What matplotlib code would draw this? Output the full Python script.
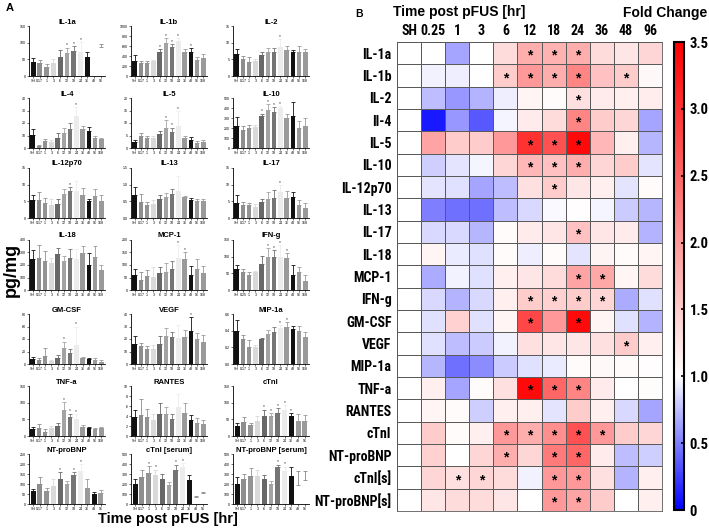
import numpy as np
import matplotlib
matplotlib.use("Agg")
import matplotlib.pyplot as plt
from matplotlib.colors import LinearSegmentedColormap, Normalize
from matplotlib.cm import ScalarMappable

plt.rcParams["font.family"] = ["Liberation Sans", "DejaVu Sans"]
NARROW = ["Liberation Sans Narrow", "Roboto Condensed", "Open Sans Condensed",
          "DejaVu Sans Condensed", "Liberation Sans"]

nan = np.nan

TIMES_12 = ["SH", "0.17", "1", "3", "6", "12", "18", "24", "36", "48", "96", "168"]
TIMES_11 = TIMES_12[:11]
TIMES_IFN = ["SH", "0.25", "1", "3", "6", "12", "18", "24", "36", "48", "96", "168"]

# ---- panel A: tissue levels (pg/mg), mean and upper error per time point ----
IL1A_MEAN = [42, 40, 28, 40, 57, 70, 75, 72, 57, nan, 88]
IL1A_ERR = [12, 8, 8, 10, 20, 15, 15, 30, 15, 0, 8]
IL1A_STAR = [5, 6, 7]

IL1B_MEAN = [294, 268, 268, 294, 477, 654, 588, 693, 477, 477, 314, 366]
IL1B_ERR = [120, 40, 40, 30, 60, 100, 50, 70, 60, 80, 60, 70]
IL1B_STAR = [4, 5, 6, 7, 9]

IL2_MEAN = [6.5, 5.2, 4.2, 4.4, 6.2, 7.2, 7.2, 8.6, 7.8, 7.2, 7.2, 7.2]
IL2_ERR = [1.5, 0.8, 1.5, 0.6, 1.0, 1.2, 1.2, 2.5, 1.2, 0.5, 1.8, 1.0]
IL2_STAR = [7]

IL4_MEAN = [10.3, 2, 5.8, 4.5, 8.4, 12.4, 15, 25.5, 15, 13.7, 8.4, 7.1]
IL4_ERR = [5, 0.5, 1.5, 2, 4, 4, 5, 7, 3, 3, 1, 1]
IL4_STAR = [7]

IL5_MEAN = [2.6, 4.9, 3.9, 4.2, 5.5, 8.2, 6.6, 8.8, 4.2, 3.3, 2.2, 2.5]
IL5_ERR = [0.6, 1, 1, 0.8, 1.5, 3, 1.5, 6, 0.5, 1.3, 0.8, 0.8]
IL5_STAR = [5, 6, 7]

IL10_MEAN = [220, 181, 197, 210, 325, 382, 362, 401, 303, 319, 204, 217]
IL10_ERR = [90, 40, 30, 25, 20, 60, 50, 20, 40, 140, 70, 80]
IL10_STAR = [4, 5, 6, 7]

IL12_MEAN = [5.4, 5.4, 4.6, 4.0, 4.3, 7.1, 8.1, 8.1, 6.9, 5.2, 6.7, 5.2]
IL12_ERR = [1.5, 2.5, 1.5, 1.8, 1.5, 1.5, 1.2, 3, 2, 0.5, 2, 1.8]
IL12_STAR = [6]

IL13_MEAN = [0.70, 0.48, 0.40, 0.43, 0.57, 0.62, 0.71, 0.81, 0.62, 0.55, 0.52, 0.52]
IL13_ERR = [0.23, 0.25, 0.08, 0.1, 0.12, 0.12, 0.15, 0.45, 0.05, 0.05, 0.06, 0.06]
IL13_STAR = []

IL17_MEAN = [4.5, 3.8, 4.0, 3.3, 4.8, 5.7, 6.0, 7.8, 6.0, 6.2, 3.8, 3.1]
IL17_ERR = [2.5, 1, 0.5, 1, 1, 2, 2.5, 2, 2, 1.5, 1.5, 1.5]
IL17_STAR = [7]

IL18_MEAN = [250, 260, 229, 217, 285, 229, 260, 247, 298, 204, 268, 158]
IL18_ERR = [70, 100, 80, 40, 50, 40, 70, 80, 50, 90, 80, 40]
IL18_STAR = []

MCP1_MEAN = [60, 42, 55, 51, 68, 74, 85, 127, 125, 62, 83, 70]
MCP1_ERR = [25, 30, 25, 40, 25, 35, 30, 52, 25, 35, 40, 25]
MCP1_STAR = [7, 8]

IFNG_MEAN = [62, 55, 46, 53, 78, 100, 100, 100, 95, 46, 54, 26]
IFNG_ERR = [12, 8, 8, 5, 25, 25, 20, 35, 15, 30, 15, 20]
IFNG_STAR = [5, 6, 7, 8]

GMCSF_MEAN = [8, 7, 13, 5, 10, 26, 18, 30, 10, 8, 6, 4]
GMCSF_ERR = [4, 3, 12, 1, 5, 10, 6, 30, 2, 2, 3, 2]
GMCSF_STAR = [5, 7]

VEGF_MEAN = [16.3, 14.5, 11.8, 12.4, 15.8, 22.6, 21.6, 21, 21.6, 26.3, 19.7, 17.9]
VEGF_ERR = [6, 2.5, 3, 3, 7, 6, 4, 10, 6, 11, 5, 5]
VEGF_STAR = [9]

MIP1A_MEAN = [0.40, 0.30, 0.20, 0.21, 0.30, 0.36, 0.38, 0.43, 0.45, 0.42, 0.40, 0.33]
MIP1A_ERR = [0.13, 0.05, 0.09, 0.02, 0.01, 0.05, 0.07, 0.04, 0.05, 0.04, 0.06, 0.05]
MIP1A_STAR = [7, 8]

TNFA_MEAN = [22, 25, 13, 25, 30, 77, 57, 50, 27, 23, 22, 23]
TNFA_ERR = [4, 10, 8, 5, 8, 25, 10, 15, 5, 3, 3, 3]
TNFA_STAR = [5, 6, 7]

RANTES_MEAN = [3.9, 4.2, 3.9, 3.3, 4.4, 4.4, 3.5, 5.9, 4.6, 3.3, 2.6, 2.4]
RANTES_ERR = [1.3, 3.3, 1.5, 1.2, 2.3, 1.5, 0.9, 2.5, 2, 1, 1, 0.8]
RANTES_STAR = []

CTNI_MEAN = [29, 41, 34, 44, 59, 59, 69, 78, 61, 46, 44]
CTNI_ERR = [10, 15, 5, 15, 20, 10, 15, 15, 8, 20, 18]
CTNI_STAR = [4, 5, 6, 7, 8]

NTPRO_MEAN = [66, 99, 66, 89, 123, 102, 143, 164, 82, 49, 53]
NTPRO_ERR = [8, 35, 12, 35, 35, 15, 15, 35, 45, 12, 18]
NTPRO_STAR = [4, 6, 7]

CTNIS_MEAN = [197, 270, 312, 293, 253, 187, 345, 368, 243, 72, 110]
CTNIS_ERR = [50, 70, 70, 50, 50, 30, 50, 40, 50, 10, 12]
CTNIS_STAR = [2, 3, 6, 7]

NTPROS_MEAN = [197, 247, 280, 280, 247, 197, 375, 335, 280, 187, 240]
NTPROS_ERR = [70, 50, 80, 60, 40, 30, 20, 40, 90, 140, 90]
NTPROS_STAR = [6, 7]

# ---- panel B: fold change vs sham ----
HEAT_COLS = ["SH", "0.25", "1", "3", "6", "12", "18", "24", "36", "48", "96"]
HEAT_ROWS = ["IL-1a", "IL-1b", "IL-2", "Il-4", "IL-5", "IL-10", "IL-12p70", "IL-13",
             "IL-17", "IL-18", "MCP-1", "IFN-g", "GM-CSF", "VEGF", "MIP-1a", "TNF-a",
             "RANTES", "cTnI", "NT-proBNP", "cTnI[s]", "NT-proBNP[s]"]
FOLD = [
    [1, 1.00, 0.65, 1.00, 1.35, 1.80, 1.75, 1.80, 1.35, 1.25, 1.40],
    [1, 0.95, 0.93, 1.00, 1.50, 2.00, 1.80, 2.20, 1.60, 1.50, 1.08],
    [1, 0.75, 0.60, 0.70, 0.93, 1.10, 1.05, 1.30, 1.20, 1.15, 1.18],
    [1, 0.10, 0.60, 0.35, 0.97, 1.20, 1.35, 2.20, 1.50, 1.40, 0.65],
    [1, 1.90, 1.50, 1.50, 2.00, 3.00, 2.70, 3.40, 1.70, 1.15, 0.72],
    [1, 0.82, 0.90, 0.97, 1.40, 1.70, 1.60, 1.80, 1.40, 1.50, 0.90],
    [1, 0.90, 0.88, 0.65, 0.75, 1.30, 1.50, 1.25, 1.15, 0.90, 1.05],
    [1, 0.50, 0.45, 0.45, 0.75, 0.85, 0.98, 1.02, 0.97, 0.80, 0.72],
    [1, 0.85, 0.85, 0.72, 1.05, 1.20, 1.25, 1.60, 1.25, 1.20, 0.70],
    [1, 1.10, 0.92, 0.88, 1.05, 0.93, 1.05, 0.90, 1.12, 1.05, 1.10],
    [1, 0.68, 0.95, 0.88, 1.15, 1.25, 1.35, 1.90, 1.85, 1.10, 1.35],
    [1, 0.85, 0.70, 0.85, 1.15, 1.50, 1.45, 1.50, 1.40, 0.68, 0.88],
    [1, 0.88, 1.45, 0.88, 1.10, 2.80, 2.00, 3.40, 1.10, 0.88, 0.70],
    [1, 0.88, 0.75, 0.80, 0.95, 1.30, 1.25, 1.25, 1.30, 1.50, 1.15],
    [1, 0.72, 0.45, 0.55, 0.80, 0.88, 0.92, 1.05, 1.07, 1.05, 1.02],
    [1, 1.15, 0.65, 1.05, 1.30, 3.40, 2.50, 2.20, 1.20, 1.00, 1.03],
    [1, 1.10, 1.05, 0.82, 1.15, 1.15, 0.90, 1.50, 1.15, 0.85, 0.65],
    [1, 1.50, 1.05, 1.15, 2.00, 1.80, 2.10, 2.70, 2.00, 1.50, 1.40],
    [1, 1.45, 1.00, 1.40, 1.80, 1.40, 2.30, 2.50, 1.20, 0.75, 0.82],
    [1, 1.40, 1.30, 1.40, 1.35, 0.95, 2.00, 2.00, 1.30, 0.70, 1.15],
    [1, 1.25, 1.35, 1.35, 1.25, 1.00, 2.00, 1.90, 1.50, 1.00, 1.15],
]
SIG = [[5, 6, 7], [4, 5, 6, 7, 9], [7], [7], [5, 6, 7], [5, 6, 7], [6], [], [7], [],
       [7, 8], [5, 6, 7, 8], [5, 7], [9], [], [5, 6, 7], [], [4, 5, 6, 7, 8],
       [4, 6, 7], [2, 3, 6, 7], [6, 7]]

# title, x labels, means, errors, stars, y max, y step, black bars, floating bars
PANELS = [
    ("IL-1a", TIMES_11, IL1A_MEAN, IL1A_ERR, IL1A_STAR, 150, 50, [0, 8], [10]),
    ("IL-1b", TIMES_12, IL1B_MEAN, IL1B_ERR, IL1B_STAR, 1000, 200, [0, 9], []),
    ("IL-2", TIMES_12, IL2_MEAN, IL2_ERR, IL2_STAR, 15, 5, [0, 9], []),
    ("IL-4", TIMES_12, IL4_MEAN, IL4_ERR, IL4_STAR, 40, 10, [0, 9], []),
    ("IL-5", TIMES_12, IL5_MEAN, IL5_ERR, IL5_STAR, 20, 5, [0, 9], []),
    ("IL-10", TIMES_12, IL10_MEAN, IL10_ERR, IL10_STAR, 500, 100, [0, 9], []),
    ("IL-12p70", TIMES_12, IL12_MEAN, IL12_ERR, IL12_STAR, 15, 5, [0, 9], []),
    ("IL-13", TIMES_12, IL13_MEAN, IL13_ERR, IL13_STAR, 1.5, 0.5, [0, 9], []),
    ("IL-17", TIMES_12, IL17_MEAN, IL17_ERR, IL17_STAR, 15, 5, [0, 9], []),
    ("IL-18", TIMES_12, IL18_MEAN, IL18_ERR, IL18_STAR, 400, 100, [0, 9], []),
    ("MCP-1", TIMES_12, MCP1_MEAN, MCP1_ERR, MCP1_STAR, 200, 50, [0, 9], []),
    ("IFN-g", TIMES_IFN, IFNG_MEAN, IFNG_ERR, IFNG_STAR, 150, 50, [0, 9], []),
    ("GM-CSF", TIMES_12, GMCSF_MEAN, GMCSF_ERR, GMCSF_STAR, 80, 20, [0, 9], []),
    ("VEGF", TIMES_12, VEGF_MEAN, VEGF_ERR, VEGF_STAR, 40, 10, [0, 9], []),
    ("MIP-1a", TIMES_12, MIP1A_MEAN, MIP1A_ERR, MIP1A_STAR, 0.6, 0.2, [0, 9], []),
    ("TNF-a", TIMES_12, TNFA_MEAN, TNFA_ERR, TNFA_STAR, 150, 50, [0, 9], []),
    ("RANTES", TIMES_12, RANTES_MEAN, RANTES_ERR, RANTES_STAR, 10, 2, [0, 9], []),
    ("cTnI", TIMES_11, CTNI_MEAN, CTNI_ERR, CTNI_STAR, 150, 50, [0, 8], []),
    ("NT-proBNP", TIMES_11, NTPRO_MEAN, NTPRO_ERR, NTPRO_STAR, 250, 50, [0, 9], []),
    ("cTnI [serum]", TIMES_11, CTNIS_MEAN, CTNIS_ERR, CTNIS_STAR, 500, 100, [0, 8], [9, 10]),
    ("NT-proBNP [serum]", TIMES_11, NTPROS_MEAN, NTPROS_ERR, NTPROS_STAR, 500, 100, [0, 8], [9, 10]),
]

GRAYS = ["#111111", "#8e8e8e", "#939393", "#d9d9d9", "#686868", "#a3a3a3",
         "#757575", "#ececec", "#9a9a9a", "#9a9a9a", "#9a9a9a", "#9a9a9a"]

W, H = 709, 528


def px_axes(fig, left, top, width, height):
    return fig.add_axes([left / W, 1 - (top + height) / H, width / W, height / H])


def fmt_tick(v, step):
    if step < 1:
        return f"{v:.1f}"
    return f"{v:g}"


def draw_bar_panel(ax, title, labels, means, errs, stars, ymax, ystep, blacks, floating):
    n = len(labels)
    x = np.arange(n)
    colors = [("#111111" if i in blacks else (GRAYS[i] if i != 0 else "#9a9a9a")) for i in range(n)]
    means = np.array(means, dtype=float)
    errs = np.array(errs, dtype=float)
    for i in range(n):
        if np.isnan(means[i]):
            continue
        if i in floating:
            ax.errorbar(i, means[i], yerr=[[0], [errs[i]]], fmt="none", ecolor="#888888",
                        elinewidth=0.6, capsize=1.3, capthick=0.6)
            continue
        ax.bar(i, means[i], width=0.72, color=colors[i], edgecolor="none")
        ax.errorbar(i, means[i], yerr=[[0], [errs[i]]], fmt="none", ecolor=colors[i],
                    elinewidth=0.6, capsize=1.3, capthick=0.6)
    for i in stars:
        ax.text(i, means[i] + errs[i] + ymax * 0.005, "*", ha="center", va="bottom",
                fontsize=3.6, color="#333333")
    ax.set_xlim(-0.6, n - 0.4)
    ax.set_ylim(0, ymax)
    ticks = np.arange(0, ymax + ystep / 2, ystep)
    ax.set_yticks(ticks, [fmt_tick(t, ystep) for t in ticks])
    ax.set_xticks(x, labels)
    ax.tick_params(axis="both", labelsize=2.6, length=1.5, width=0.4, pad=0.8)
    for s in ["top", "right"]:
        ax.spines[s].set_visible(False)
    for s in ["left", "bottom"]:
        ax.spines[s].set_linewidth(0.6)
    ax.text(0.5, 1.08, title, transform=ax.transAxes, ha="center", va="center",
            fontsize=5.5, weight="bold")


def main():
    fig = plt.figure(figsize=(W / 100, H / 100), dpi=100)

    # ---- panel A ----
    col_left = [29, 131, 233]
    row_top = [26, 98, 168, 240, 314, 386, 454]
    for k, panel in enumerate(PANELS):
        r, c = divmod(k, 3)
        ax = px_axes(fig, col_left[c], row_top[r], 76, 50)
        draw_bar_panel(ax, *panel)

    fig.text(6 / W, 1 - 8 / H, "A", fontsize=8, weight="bold", va="center")
    fig.text(11 / W, 1 - 270 / H, "pg/mg", rotation=90, fontsize=13, weight="bold",
             ha="center", va="center")
    fig.text(168 / W, 1 - 519 / H, "Time post pFUS [hr]", fontsize=10.5, weight="bold",
             ha="center", va="center")

    # ---- panel B ----
    cmap = LinearSegmentedColormap.from_list(
        "fold", [(0, "#0000ff"), (1 / 3.5, "#ffffff"), (1, "#ff0000")])
    norm = Normalize(vmin=0, vmax=3.5)
    fold = np.array(FOLD)
    nr, nc = fold.shape

    hax = px_axes(fig, 397, 42, 265, 469)
    hax.pcolormesh(np.arange(nc + 1), np.arange(nr + 1), fold, cmap=cmap, norm=norm,
                   edgecolors="#5a5a5a", linewidth=0.6)
    hax.set_xlim(0, nc)
    hax.set_ylim(nr, 0)
    for r, cols in enumerate(SIG):
        for c in cols:
            hax.text(c + 0.5, r + 0.62, "*", ha="center", va="center", fontsize=10,
                     weight="bold", color="black")
    hax.set_yticks(np.arange(nr) + 0.5, HEAT_ROWS)
    hax.set_xticks([])
    hax.tick_params(axis="y", length=0, pad=4)
    for lab in hax.get_yticklabels():
        lab.set_fontfamily(NARROW)
        lab.set_fontstretch("condensed")
        lab.set_fontweight("bold")
        lab.set_fontsize(10)
    for c, name in enumerate(HEAT_COLS):
        hax.text(c + 0.5, -0.5, name, ha="center", va="center", fontsize=10,
                 weight="bold", family=NARROW, stretch="condensed")
    for s in hax.spines.values():
        s.set_color("#5a5a5a")
        s.set_linewidth(0.6)

    cax = px_axes(fig, 674, 42, 10, 468)
    cb = fig.colorbar(ScalarMappable(norm=norm, cmap=cmap), cax=cax,
                      ticks=[0, 0.5, 1.0, 1.5, 2.0, 2.5, 3.0, 3.5])
    cb.ax.set_yticklabels(["0", "0.5", "1.0", "1.5", "2.0", "2.5", "3.0", "3.5"])
    cb.outline.set_linewidth(1.5)
    cax.tick_params(direction="in", length=2, width=1.2, pad=4)
    for lab in cax.get_yticklabels():
        lab.set_fontfamily(NARROW)
        lab.set_fontstretch("condensed")
        lab.set_fontweight("bold")
        lab.set_fontsize(10.5)

    fig.text(355 / W, 1 - 14 / H, "B", fontsize=7.5, weight="bold", va="center")
    fig.text(393 / W, 1 - 12 / H, "Time post pFUS [hr]", fontsize=10, weight="bold",
             va="center")
    fig.text(665 / W, 1 - 13 / H, "Fold Change", fontsize=10, weight="bold",
             ha="center", va="center")

    fig.savefig("out.png", dpi=100)
    plt.close(fig)


if __name__ == "__main__":
    main()
